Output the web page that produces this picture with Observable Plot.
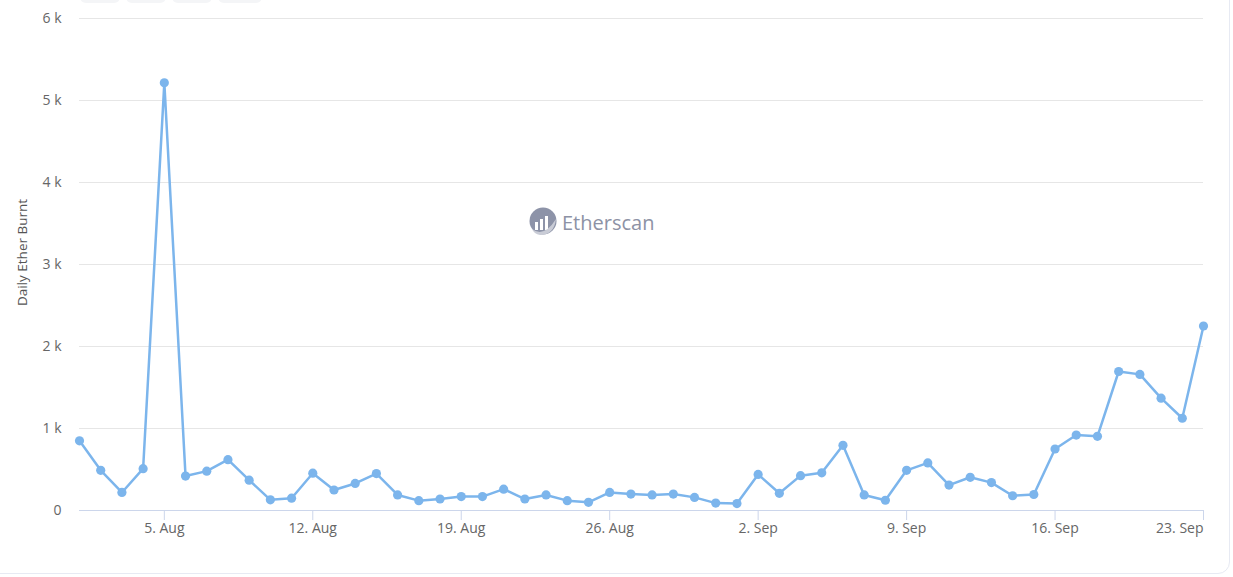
<!DOCTYPE html>
<html>
<head>
<meta charset="utf-8">
<script src="https://cdn.jsdelivr.net/npm/d3@7"></script>
<script src="https://cdn.jsdelivr.net/npm/@observablehq/plot@0.6"></script>
<style>
  html, body { margin: 0; padding: 0; background: #fff; overflow: hidden; }
  #wrap { position: relative; width: 1233px; height: 577px; font-family: "Open Sans", sans-serif; }
  #card { position: absolute; left: -12px; top: -12px; width: 1242px; height: 586px; border: 1px solid #e7eaf3; border-radius: 12px; box-sizing: border-box; }
  .btn { position: absolute; top: -20px; height: 23px; background: #f4f5f7; border-radius: 6px; }
  #chart { position: absolute; left: 0; top: 0; }
  #wm { position: absolute; left: 528px; top: 207px; display: flex; align-items: center; gap: 4px; pointer-events: none; }
  #wm span { font-family: "Open Sans", sans-serif; font-size: 20px; color: #8d92a5; }
</style>
</head>
<body>
<div id="wrap">
  <div id="card"></div>
  <div class="btn" style="left:80px;width:40px"></div>
  <div class="btn" style="left:126px;width:40px"></div>
  <div class="btn" style="left:172px;width:40px"></div>
  <div class="btn" style="left:218px;width:44px"></div>
  <div id="chart"></div>
  <div id="wm">
    <svg width="30" height="30" viewBox="0 0 30 30">
      <circle cx="15" cy="14" r="13.5" fill="#8d93a8"/>
      <rect x="7" y="15" width="3" height="8" fill="#fff"/>
      <rect x="12" y="12" width="3" height="11" fill="#fff"/>
      <rect x="17" y="9" width="3" height="14" fill="#fff"/>
      <path d="M4 22 Q16 31 28 12 Q26 28 12 28 Q6 27 4 22Z" fill="#c9ccd6"/>
    </svg>
    <span>Etherscan</span>
  </div>
</div>
<script>
// ---- data ----
const startDate = "2021-08-01";
const burnt = [
  850, 490, 220, 510, 5215, 420, 480, 620, 370, 130, 150, 455,
  250, 330, 450, 190, 120, 140, 170, 170, 260, 140, 190, 120,
  100, 220, 200, 190, 200, 160, 90, 85, 440, 210, 425, 460,
  795, 190, 125, 490, 580, 310, 405, 340, 180, 195, 750, 920,
  905, 1695, 1660, 1370, 1125, 2250
];
const xTickLabels = ["2021-08-05", "2021-08-12", "2021-08-19", "2021-08-26", "2021-09-02", "2021-09-09", "2021-09-16", "2021-09-23"];
const yTicks = [0, 1000, 2000, 3000, 4000, 5000, 6000];
const yTitle = "Daily Ether Burnt";

// ---- build table ----
const t0 = new Date(startDate + "T00:00:00Z");
const data = burnt.map((v, i) => ({ date: new Date(t0.getTime() + i * 86400000), value: v }));
const xTicks = xTickLabels.map(s => new Date(s + "T00:00:00Z"));
const xTicksMid = xTicks.slice(0, -1);
const xTicksLast = xTicks.slice(-1);
const fmtX = d3.utcFormat("%-d. %b");
const fmtY = d => d === 0 ? "0" : (d / 1000) + " k";

const chart = Plot.plot({
  width: 1233,
  height: 577,
  marginTop: 18,
  marginBottom: 67,
  marginLeft: 79,
  marginRight: 30,
  style: { fontFamily: "'Open Sans', sans-serif", fontSize: "14px", background: "transparent", color: "#666" },
  x: { type: "utc", domain: [data[0].date, data[data.length - 1].date] },
  y: { domain: [0, 6000] },
  marks: [
    Plot.gridY(yTicks, { stroke: "#e6e6e6", strokeOpacity: 1 }),
    Plot.ruleY([0], { stroke: "#ccd6eb", strokeWidth: 1 }),
    Plot.axisX({ ticks: xTicksMid, tickFormat: fmtX, tickSize: 10, tickPadding: 3, stroke: "#ccd6eb", strokeOpacity: 1, fill: "#666", label: null }),
    Plot.axisX({ ticks: xTicksLast, tickFormat: fmtX, tickSize: 10, tickPadding: 3, stroke: "#ccd6eb", strokeOpacity: 1, fill: "#666", textAnchor: "end", label: null }),
    Plot.axisY({ ticks: yTicks, tickFormat: fmtY, tickSize: 0, tickPadding: 18, fill: "#666", label: null }),
    Plot.text([yTitle], { frameAnchor: "left", dx: -57, dy: -12, rotate: -90, fill: "#555", fontSize: 13.5, textAnchor: "middle" }),
    Plot.line(data, { x: "date", y: "value", stroke: "#7cb5ec", strokeWidth: 2.5 }),
    Plot.dot(data, { x: "date", y: "value", r: 4.6, fill: "#7cb5ec", stroke: "none" })
  ]
});
document.getElementById("chart").appendChild(chart);
</script>
</body>
</html>
